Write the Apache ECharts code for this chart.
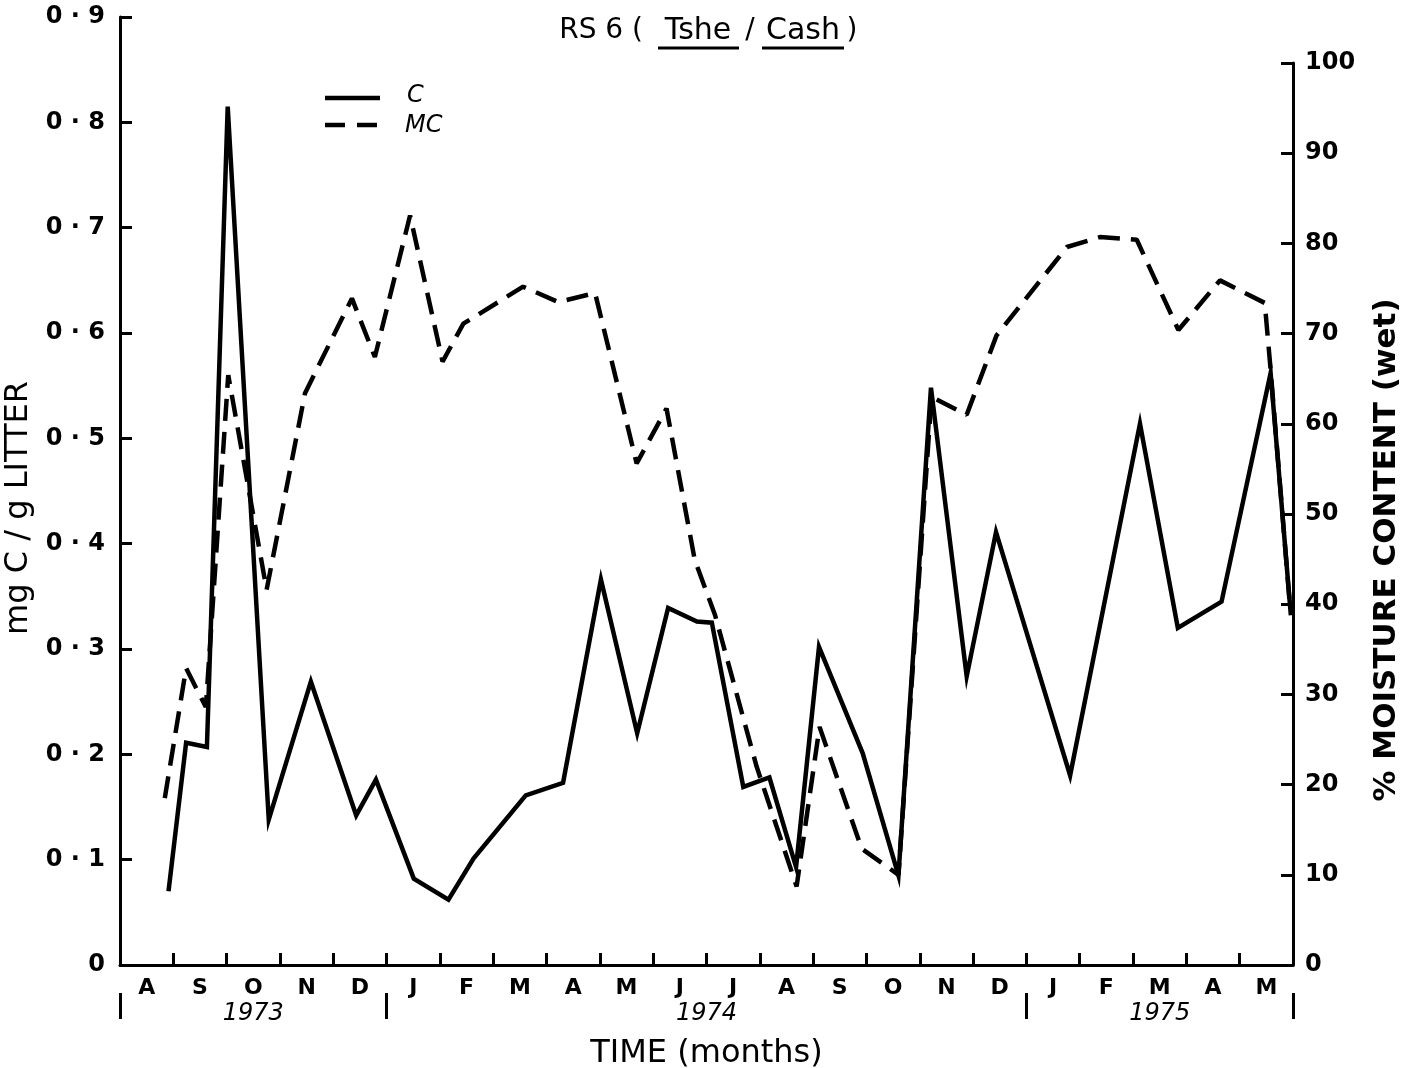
<!DOCTYPE html>
<html>
<head>
<meta charset="utf-8">
<script src="https://cdn.jsdelivr.net/npm/echarts@6/dist/echarts.min.js"></script>
<style>html,body{margin:0;padding:0;background:#fff;}#c{width:1404px;height:1068px;}</style>
</head>
<body>
<div id="c"></div>
<script>
// Month labels (Aug 1973 .. May 1975) and year labels
const months = ['A','S','O','N','D','J','F','M','A','M','J','J','A','S','O','N','D','J','F','M','A','M'];
const years = ['1973','1974','1975'];
const yearCentres = [2.5, 11, 19.5];     // months from 1 Aug 1973
const yearBounds = [0, 5, 17, 22];

// C (mg C / g litter), x = months since 1 Aug 1973
const cX = [0.91,1.24,1.63,2.02,2.79,3.58,4.43,4.80,5.51,6.16,6.63,7.61,8.31,9.02,9.70,10.28,10.82,11.10,11.69,12.18,12.68,13.11,13.93,14.60,15.21,15.88,16.43,17.82,19.13,19.84,20.66,21.58,21.96];
const cVal = [0.070,0.211,0.207,0.815,0.138,0.269,0.142,0.176,0.082,0.062,0.101,0.161,0.173,0.366,0.220,0.339,0.326,0.325,0.169,0.178,0.093,0.302,0.201,0.085,0.548,0.274,0.411,0.180,0.514,0.320,0.345,0.562,0.332];

// MC (% moisture content, wet)
const mcX = [0.84,1.24,1.61,2.03,2.75,3.47,4.35,4.78,5.44,6.05,6.44,7.56,8.22,8.91,9.69,10.25,10.78,11.16,11.94,12.69,13.12,13.91,14.60,15.22,15.88,16.44,17.76,18.38,19.07,19.85,20.63,21.47,21.57,21.94];
const mcVal = [18.5,32.9,28.6,65.4,41.6,63.4,73.9,67.4,83.1,66.9,71.1,75.2,73.5,74.5,55.6,61.7,44.9,38.8,22.0,8.7,26.4,12.9,10.0,63.0,61.0,69.8,79.6,80.7,80.4,70.4,75.9,73.4,66.7,40.0];

const FONT = 'DejaVu Sans';
const black = '#000';
const DASH = [22, 11];
const chart = echarts.init(document.getElementById('c'), null, {renderer:'canvas'});
const axisLine = {show:true, onZero:false, lineStyle:{color:black, width:3}};
const tick = {show:true, inside:true, length:12, lineStyle:{color:black, width:3}};
const numLabel = {fontFamily:FONT, fontSize:23, fontWeight:'bold', color:black};

function txt(text, x, y, align, style) {
  return {type:'text', x:x, y:y, silent:true,
    style:Object.assign({text:text, fill:black, font:'28px "DejaVu Sans"', textAlign:align, textVerticalAlign:'middle'}, style || {})};
}

chart.setOption({
  backgroundColor:'#fff',
  animation:false,
  grid:[
    {left:120, right:111, top:17, bottom:103, containLabel:false, outerBoundsMode:'none'},
    {left:120, right:111, top:63, bottom:103, containLabel:false, outerBoundsMode:'none'}
  ],
  xAxis:[
    {type:'value', gridIndex:0, min:0, max:22, show:false},
    {type:'category', gridIndex:0, data:months, boundaryGap:true, position:'bottom',
      axisLine:axisLine, axisTick:tick,
      axisLabel:Object.assign({margin:12}, numLabel, {fontSize:22}),
      splitLine:{show:false},
      name:'TIME (months)', nameLocation:'middle', nameGap:73,
      nameTextStyle:{fontFamily:FONT, fontSize:32, color:black}
    },
    {type:'value', gridIndex:0, min:0, max:22, position:'bottom', offset:28,
      axisLine:{show:false},
      axisTick:{show:true, customValues:yearBounds, length:26, lineStyle:{color:black, width:3}},
      axisLabel:{customValues:yearCentres, formatter:(v)=>years[yearCentres.indexOf(v)] || '',
        fontFamily:FONT, fontSize:24, fontStyle:'italic', color:black, margin:9},
      splitLine:{show:false}
    },
    {type:'value', gridIndex:1, min:0, max:22, show:false}
  ],
  yAxis:[
    {type:'value', gridIndex:0, min:0, max:0.9, interval:0.1, position:'left',
      axisLine:axisLine, axisTick:tick,
      axisLabel:Object.assign({margin:15, formatter:(v)=> v===0 ? '0' : v.toFixed(1).replace('.', ' · ')}, numLabel, {fontSize:24}),
      splitLine:{show:false},
      name:'mg C / g LITTER', nameLocation:'middle', nameGap:72,
      nameTextStyle:{fontFamily:FONT, fontSize:32, color:black, padding:[0,34,0,0]}
    },
    {type:'value', gridIndex:1, min:0, max:100, interval:10, position:'right',
      axisLine:axisLine, axisTick:tick,
      axisLabel:Object.assign({margin:12}, numLabel, {fontSize:24}),
      splitLine:{show:false},
      name:'% MOISTURE CONTENT (wet)', nameLocation:'middle', nameGap:78, nameRotate:90,
      nameTextStyle:{fontFamily:FONT, fontSize:31, fontWeight:'bold', color:black, padding:[0,72,0,0]}
    }
  ],
  series:[
    {name:'C', type:'line', xAxisIndex:0, yAxisIndex:0, symbol:'none',
      lineStyle:{color:black, width:4.5, join:'miter'},
      itemStyle:{color:black},
      data:cX.map((x,i)=>[x,cVal[i]])},
    {name:'MC', type:'line', xAxisIndex:3, yAxisIndex:1, symbol:'none',
      lineStyle:{color:black, width:4.5, type:DASH},
      itemStyle:{color:black},
      data:mcX.map((x,i)=>[x,mcVal[i]])}
  ],
  graphic:[
    // title
    txt('RS 6 (', 643, 31, 'right'),
    txt('Tshe', 698, 31, 'center', {font:'30px "DejaVu Sans"'}),
    txt('/', 750, 31, 'center'),
    txt('Cash', 803, 31, 'center', {font:'30px "DejaVu Sans"'}),
    txt(')', 852, 31, 'center'),
    {type:'line', silent:true, shape:{x1:658, y1:48, x2:739, y2:48}, style:{stroke:black, lineWidth:3}},
    {type:'line', silent:true, shape:{x1:762, y1:48, x2:844, y2:48}, style:{stroke:black, lineWidth:3}},
    // legend
    {type:'line', silent:true, shape:{x1:325, y1:98, x2:380, y2:98}, style:{stroke:black, lineWidth:4.5}},
    {type:'line', silent:true, shape:{x1:325, y1:125, x2:380, y2:125}, style:{stroke:black, lineWidth:4.5, lineDash:[20,12]}},
    txt('C', 407, 96, 'left', {font:'italic 24px "DejaVu Sans"'}),
    txt('MC', 405, 126, 'left', {font:'italic 24px "DejaVu Sans"'})
  ]
});
</script>
</body>
</html>
